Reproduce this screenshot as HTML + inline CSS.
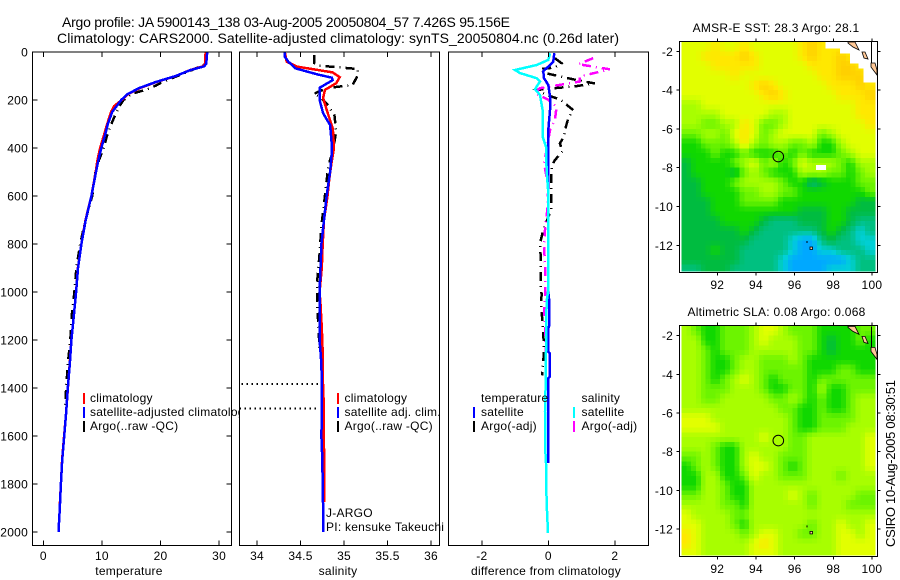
<!DOCTYPE html>
<html lang="en">
<head>
<meta charset="utf-8">
<title>Argo profile 5900143_138</title>
<style>
html,body{margin:0;padding:0;background:#fff;}
svg{display:block;font-family:"Liberation Sans",sans-serif;font-size:12px;fill:#000;letter-spacing:0.25px;}
.line{fill:none;stroke-linejoin:miter;shape-rendering:crispEdges;}
.frame{fill:none;stroke:#000;stroke-width:1;shape-rendering:crispEdges;}
.tick{stroke:#000;stroke-width:1;shape-rendering:crispEdges;}
</style>
</head>
<body>
<svg id="chart" xmlns="http://www.w3.org/2000/svg" width="900" height="580" viewBox="0 0 900 580">
<rect x="0" y="0" width="900" height="580" fill="#fff"/>
<text x="62" y="27" font-size="14" style="letter-spacing:0" textLength="448" lengthAdjust="spacing">Argo profile: JA 5900143_138 03-Aug-2005 20050804_57 7.426S 95.156E</text>
<text x="57" y="43" font-size="14" style="letter-spacing:0" textLength="562" lengthAdjust="spacing">Climatology: CARS2000. Satellite-adjusted climatology: synTS_20050804.nc (0.26d later)</text>
<g id="root"></g>
<text transform="translate(895,547) rotate(-90)" font-size="13" style="letter-spacing:0" textLength="167" lengthAdjust="spacing">CSIRO 10-Aug-2005 08:30:51</text>
</svg>
<script>
const depthTicks = [0,200,400,600,800,1000,1200,1400,1600,1800,2000];
const tempTicks = [0,10,20,30];
const salTicks = [34,34.5,35,35.5,36];
const salTickLabels = ['34','34.5','35','35.5','36'];
const diffTicks = [-2,0,2];
const lonTicks = [92,94,96,98,100];
const latTicks = [-2,-4,-6,-8,-10,-12];

const tempClimDepth = [0,50,60,75,100,125,150,175,200,225,250,300,350,400,450,500,600,700,800,900,1000,1100,1200,1300,1400,1500,1600,1700,1800,1900];
const tempClimValue = [27.7,27.6,27.2,25.1,22.6,19.3,16.5,14.5,13.4,12.1,11.55,10.9,10.3,9.7,9.25,8.95,8.2,7.2,6.5,5.9,5.6,5.2,4.8,4.5,4.2,3.9,3.55,3.2,3.0,2.8];
const tempSatDepth = [0,50,60,75,100,125,150,175,200,250,300,350,400,450,500,600,700,800,900,1000,1100,1200,1300,1400,1500,1600,1700,1800,1900,2000];
const tempSatValue = [27.97,27.8,27.4,25.14,22.6,19.2,16.4,14.4,13.3,11.75,11.0,10.5,9.9,9.4,9.0,8.2,7.23,6.5,5.93,5.6,5.2,4.8,4.52,4.18,3.9,3.56,3.22,3.0,2.82,2.6];
const tempArgoDepth = [0,50,75,100,125,140,155,175,200,225,250,300,350,400,450,500,600,700,800,900,1000,1100,1200,1300,1400,1490];
const tempArgoValue = [27.7,27.7,25.4,22.9,20.3,19.2,17.8,15,13.7,13,12.5,11.6,10.85,10.3,9.5,8.9,8.35,7.2,6.3,5.65,5.3,4.85,4.6,4.18,3.9,3.67];

const salClimDepth = [0,40,61,85,105,130,158,192,262,317,337,400,476,532,600,700,800,900,1000,1050,1150,1250,1350,1450,1550,1650,1750,1875];
const salClimValue = [34.32,34.34,34.46,34.87,34.95,34.91,34.78,34.76,34.82,34.87,34.875,34.885,34.85,34.83,34.81,34.77,34.755,34.745,34.72,34.73,34.745,34.755,34.755,34.765,34.765,34.77,34.775,34.775];
const salSatDepth = [0,20,40,68,93,107,117,149,200,255,304,387,421,500,600,700,800,900,1000,1100,1200,1300,1400,1500,1600,1700,1800,1900,2000];
const salSatValue = [34.32,34.32,34.36,34.44,34.69,34.86,34.87,34.72,34.72,34.76,34.84,34.86,34.86,34.84,34.80,34.77,34.74,34.73,34.72,34.72,34.72,34.74,34.745,34.745,34.74,34.75,34.755,34.76,34.76];
const salArgoDepth = [12,46,57,71,96,137,151,175,186,214,262,332,415,475,600,725,840,965,1075,1170,1253];
const salArgoValue = [34.66,34.66,34.72,35.16,35.16,35.10,34.80,34.65,34.72,34.80,34.89,34.91,34.87,34.82,34.78,34.74,34.72,34.69,34.695,34.71,34.72];
const salGapDepth = [1384,1486];
const salGapStart = [33.82,33.80];
const salGapEnd = [34.71,34.68];

const diffTempSatDepth = [5,40,81,109,137,186,242,325,463,575,1000,1040,1140,1150,1250,1255,1354,1360,1712];
const diffTempSatValue = [0.18,0.15,-0.15,-0.13,0,0.05,0.05,0,0,0,0,0.03,0.03,0,0,0.04,0.04,0,0];
const diffSalSatDepth = [5,33,54,75,88,109,123,155,179,242,353,394,491,588,990,1040,1394,1499,1638,1712,1874,2004];
const diffSalSatValue = [0.05,0,-0.35,-1.0,-0.85,-0.35,-0.25,-0.4,-0.25,-0.17,-0.17,-0.07,-0.05,0,0,-0.05,-0.08,-0.1,-0.1,-0.07,-0.05,-0.01];
const diffTempArgoDepth = [26,47,64,72,89,117,131,142,158,179,197,242,276,311,353,381,415,450,478,561,658,742,797,881,964,1010,1060,1115,1175,1240,1290,1347];
const diffTempArgoValue = [0.2,0.4,0.2,-0.25,-0.05,0.85,1.4,0.85,-0.35,-0.05,0.35,0.75,0.6,0.53,0.47,0.35,0.43,0.2,0.1,0.08,0.08,-0.15,-0.25,-0.22,-0.23,-0.2,-0.22,-0.18,-0.15,-0.13,-0.15,-0.19];
const diffSalArgoDepth = [26,51,72,102,123,151,172,199,228,283,325,394,463,561,658,742,811,881,978,1020,1085,1140,1195,1250];
const diffSalArgoValue = [1.35,0.9,1.85,0.95,0.95,-0.25,-0.4,0,0.25,0.2,0.05,-0.03,-0.13,0,-0.03,-0.1,-0.13,-0.1,-0.1,-0.1,-0.13,-0.1,-0.1,-0.07];

const mapColors = [[0,80,224],[0,168,255],[0,208,216],[0,192,128],[0,188,64],[16,216,0],[108,244,0],[168,254,0],[226,255,0],[255,232,0],[255,208,0]];
const sstRows = [
[8,8,8,9,8,8,9,8,8,8,8,8,9,10,9,9,9,9,9,9],
[8,8,9,9,9,9,10,9,8,8,8,8,9,10,9,9,10,9,9,9],
[8,8,8,9,9,9,9,9,8,8,8,8,8,9,9,9,10,10,9,9],
[8,8,8,8,8,9,8,8,8,8,8,8,8,8,9,9,10,10,10,9],
[8,8,8,8,8,8,8,9,10,9,8,8,8,8,8,9,9,9,10,9],
[8,8,8,8,8,8,8,8,9,10,9,8,8,8,8,8,9,9,9,10],
[7,7,8,8,8,8,8,8,8,8,8,8,8,8,8,8,8,8,9,9],
[7,7,7,7,8,8,8,8,8,7,7,8,8,8,8,8,8,8,9,9],
[7,7,6,6,7,7,9,8,6,6,7,8,8,8,8,8,8,8,8,9],
[6,6,7,7,6,8,9,8,6,7,8,8,8,8,6,7,8,8,8,8],
[5,5,6,6,6,7,9,7,6,7,7,6,6,7,5,5,7,8,8,8],
[5,5,5,6,5,5,6,5,5,5,6,5,6,5,5,5,6,7,8,8],
[4,5,5,5,5,6,7,8,6,7,5,6,8,7,7,7,6,5,7,7],
[4,5,5,5,5,4,6,7,6,5,5,5,7,7,7,6,6,5,6,7],
[4,4,5,5,5,6,7,7,7,7,6,5,5,3,4,5,5,5,6,6],
[4,4,5,5,5,5,6,6,7,7,6,6,5,5,5,5,5,5,5,6],
[4,4,4,5,5,5,6,6,6,6,5,5,5,5,5,5,5,5,4,4],
[4,4,4,5,5,5,5,5,5,5,5,5,4,4,4,5,5,4,4,4],
[4,4,4,4,5,5,5,5,4,3,3,3,4,4,4,5,5,4,3,3],
[4,4,4,4,4,4,5,4,3,3,3,3,3,3,4,5,4,3,2,3],
[4,4,4,4,4,4,4,3,3,3,3,2,1,1,3,4,3,3,2,2],
[4,4,4,5,4,4,3,3,3,3,3,2,1,1,2,2,3,3,3,2],
[4,4,4,4,4,4,3,3,3,3,2,1,1,1,1,1,1,2,3,3],
[3,3,4,4,4,3,3,3,3,3,2,1,1,1,1,2,2,2,3,3]
];
const slaRows = [
[7,6,5,5,6,6,6,7,8,8,7,6,6,6,5,5,5,5,6,6],
[7,7,5,5,6,6,6,7,8,7,7,7,6,6,5,4,5,5,6,5],
[7,7,6,5,6,6,6,7,7,7,7,7,6,6,5,4,5,5,5,5],
[7,7,6,5,5,6,7,7,6,6,6,7,6,5,5,5,5,5,5,5],
[7,7,6,5,5,6,7,7,6,6,6,6,6,5,5,5,6,6,5,5],
[7,7,6,5,6,7,8,7,6,5,6,6,6,5,6,6,6,6,6,6],
[7,7,6,6,6,7,7,7,6,5,5,6,6,5,7,5,5,6,6,6],
[7,7,6,6,7,7,7,7,7,6,6,7,6,5,6,5,5,6,7,7],
[7,7,7,7,7,7,7,7,7,7,6,6,5,5,6,5,5,6,7,7],
[8,8,8,7,7,7,7,7,7,7,7,6,5,5,6,6,6,6,7,7],
[8,8,8,8,7,7,7,7,7,7,7,6,5,5,6,6,6,7,7,7],
[7,7,7,7,7,7,7,7,8,7,7,6,6,7,7,7,7,7,7,8],
[7,7,7,6,5,5,7,7,7,7,7,6,6,7,7,7,7,7,7,8],
[6,6,7,6,5,5,7,8,7,7,6,6,6,7,7,7,7,7,7,8],
[5,6,7,6,5,5,7,8,8,7,6,5,6,7,7,7,7,7,7,8],
[5,5,7,7,5,5,6,8,7,7,6,6,6,7,7,7,6,7,7,7],
[5,5,7,7,6,5,5,7,7,7,7,7,7,7,7,7,7,7,7,7],
[6,6,7,7,6,5,5,7,7,7,7,8,7,6,7,7,7,7,6,6],
[7,7,7,7,6,6,5,7,7,7,7,7,7,6,7,7,7,6,6,6],
[8,7,7,7,7,6,6,7,7,7,7,7,7,7,7,7,7,7,7,7],
[8,8,7,7,7,6,5,7,7,7,7,7,7,6,7,7,8,7,7,8],
[9,8,7,7,7,7,6,7,8,8,7,7,6,6,7,7,8,8,7,8],
[9,8,7,7,7,7,7,8,9,8,7,7,7,7,7,7,8,8,8,8],
[8,8,7,7,7,7,7,8,8,8,7,7,7,7,7,7,8,8,8,8]
];
const floatLon = [95.156];
const floatLat = [-7.426];

const NS = 'http://www.w3.org/2000/svg';
const root = document.getElementById('root');
const yDepth = d => 52 + d * 0.24;
const xTemp = v => 43.3 + v * 5.86;
const xSal = v => 257 + (v - 34) * 87;
const xDiff = v => 548.3 + v * 33.25;
const xLon = v => 717.3 + (v - 92) * 19.33;
const ySst = v => 51.3 + (-2 - v) * 19.4;
const ySla = v => 335.7 + (-2 - v) * 19.33;
const MAP_LEFT = 679.5, MAP_RIGHT = 877.5;

function make(tag, attrs, parent, text) {
  const el = document.createElementNS(NS, tag);
  for (const k in attrs) el.setAttribute(k, attrs[k]);
  if (text !== undefined) el.textContent = text;
  (parent || root).appendChild(el);
  return el;
}

function tick(x1, y1, x2, y2, name) {
  const el = make('line', {x1: x1, y1: y1, x2: x2, y2: y2, class: 'tick'});
  
  
}

function label(x, y, str, anchor, name) {
  const el = make('text', {x: x, y: y, 'text-anchor': anchor}, root, str);
  
  
}

function panel(L, R, T, B, name) {
  const bg = make('rect', {x: L, y: T, width: R - L, height: B - T, fill: '#fff'});
  
  
}

function frame(L, R, T, B, name) {
  const el = make('rect', {x: L, y: T, width: R - L, height: B - T, class: 'frame'});
  
  
}

function series(depths, values, xFn, color, width, dash, name) {
  const pts = depths.map((d, i) => xFn(values[i]).toFixed(1) + ',' + yDepth(d).toFixed(1)).join(' ');
  const el = make('polyline', {points: pts, class: 'line', stroke: color, 'stroke-width': width});
  if (dash) el.setAttribute('stroke-dasharray', dash);
  
  
}

function legendEntry(xMark, xText, y, color, str, name) {
  if (color) {
    const m = make('rect', {x: xMark, y: y - 5, width: 2, height: 11, fill: color});
    
    
  }
  label(xText, y + 4, str, 'start', name);
}

const DASH = '9 5 1 5';
const LINE = 2.5;
const ARGO_LINE = 2.5;
const TOP = 52, BOT = 545.5;

/* temperature panel */
panel(32.5, 231.5, TOP, BOT, 'temperature-panel');
series(tempArgoDepth, tempArgoValue, xTemp, '#000', ARGO_LINE, DASH, 'temperature-argo-line');
series(tempClimDepth, tempClimValue, xTemp, '#f00', LINE, null, 'temperature-climatology-line');
series(tempSatDepth, tempSatValue, xTemp, '#00f', LINE, null, 'temperature-satellite-line');
legendEntry(83, 90, 398, '#f00', 'climatology', 'temperature-legend-climatology');
legendEntry(83, 90, 412, '#00f', 'satellite-adjusted climatology', 'temperature-legend-satellite');
legendEntry(83, 90, 426, '#000', 'Argo(..raw -QC)', 'temperature-legend-argo');
frame(32.5, 231.5, TOP, BOT, 'temperature-panel');
depthTicks.forEach(d => {
  tick(32.5, yDepth(d), 37.5, yDepth(d), 'depth-tick-left');
  tick(226.5, yDepth(d), 231.5, yDepth(d), 'depth-tick-right');
  label(28, yDepth(d) + 4.5, String(d), 'end', 'depth-tick-label');
});
tempTicks.forEach(v => {
  tick(xTemp(v), TOP, xTemp(v), TOP + 5, 'temperature-tick-top');
  tick(xTemp(v), BOT, xTemp(v), BOT - 5, 'temperature-tick-bottom');
  label(xTemp(v), 560, String(v), 'middle', 'temperature-tick-label');
});
label(129, 575, 'temperature', 'middle', 'temperature-axis-title');

/* salinity panel */
panel(239.5, 439.5, TOP, BOT, 'salinity-panel');
series(salArgoDepth, salArgoValue, xSal, '#000', ARGO_LINE, DASH, 'salinity-argo-line');
salGapDepth.forEach((d, i) => {
  const el = make('line', {x1: xSal(salGapStart[i]), y1: yDepth(d), x2: xSal(salGapEnd[i]), y2: yDepth(d), stroke: '#000', 'stroke-width': 2, 'stroke-dasharray': '1.5 3.5', class: 'line'});
  
  
});
series(salClimDepth, salClimValue, xSal, '#f00', LINE, null, 'salinity-climatology-line');
series(salSatDepth, salSatValue, xSal, '#00f', LINE, null, 'salinity-satellite-line');
legendEntry(337, 344.5, 398, '#f00', 'climatology', 'salinity-legend-climatology');
legendEntry(337, 344.5, 412, '#00f', 'satellite adj. clim.', 'salinity-legend-satellite');
legendEntry(337, 344.5, 426, '#000', 'Argo(..raw -QC)', 'salinity-legend-argo');
frame(239.5, 439.5, TOP, BOT, 'salinity-panel');
salTicks.forEach((v, i) => {
  tick(xSal(v), TOP, xSal(v), TOP + 5, 'salinity-tick-top');
  tick(xSal(v), BOT, xSal(v), BOT - 5, 'salinity-tick-bottom');
  label(xSal(v), 560, salTickLabels[i], 'middle', 'salinity-tick-label');
});
label(338, 575, 'salinity', 'middle', 'salinity-axis-title');
label(326, 517, 'J-ARGO', 'start', 'float-program-label');
label(326, 531, 'PI: kensuke Takeuchi', 'start', 'float-pi-label');

/* difference panel */
panel(448.5, 648.5, TOP, BOT, 'difference-panel');
series(diffTempArgoDepth, diffTempArgoValue, xDiff, '#000', ARGO_LINE, DASH, 'difference-temperature-argo-line');
series(diffSalArgoDepth, diffSalArgoValue, xDiff, '#f0f', ARGO_LINE, DASH, 'difference-salinity-argo-line');
series(diffTempSatDepth, diffTempSatValue, xDiff, '#00f', LINE, null, 'difference-temperature-satellite-line');
series(diffSalSatDepth, diffSalSatValue, xDiff, '#0ff', LINE, null, 'difference-salinity-satellite-line');
legendEntry(0, 481, 398, null, 'temperature', 'difference-legend-temperature-heading');
legendEntry(473, 481, 412, '#00f', 'satellite', 'difference-legend-temperature-satellite');
legendEntry(473, 481, 426, '#000', 'Argo(-adj)', 'difference-legend-temperature-argo');
legendEntry(0, 581.5, 398, null, 'salinity', 'difference-legend-salinity-heading');
legendEntry(573, 581.5, 412, '#0ff', 'satellite', 'difference-legend-salinity-satellite');
legendEntry(573, 581.5, 426, '#f0f', 'Argo(-adj)', 'difference-legend-salinity-argo');
frame(448.5, 648.5, TOP, BOT, 'difference-panel');
diffTicks.forEach(v => {
  tick(xDiff(v), TOP, xDiff(v), TOP + 5, 'difference-tick-top');
  tick(xDiff(v), BOT, xDiff(v), BOT - 5, 'difference-tick-bottom');
  label(xDiff(v), 560, String(v), 'middle', 'difference-tick-label');
});
label(546, 575, 'difference from climatology', 'middle', 'difference-axis-title');

/* maps: each half-degree value is shaded through a smooth colour scale on a quarter-degree raster */
function levelColor(level) {
  const a = Math.max(0, Math.min(mapColors.length - 1, level));
  const lo = Math.floor(a), hi = Math.min(mapColors.length - 1, lo + 1), t = a - lo;
  const c = mapColors[lo].map((v, k) => Math.round(v + (mapColors[hi][k] - v) * t));
  return 'rgb(' + c.join(',') + ')';
}

function sampleLevel(rows, u, v) {
  const nr = rows.length, nc = rows[0].length;
  const cu = Math.max(0, Math.min(nc - 1, u)), cv = Math.max(0, Math.min(nr - 1, v));
  const i0 = Math.floor(cu), j0 = Math.floor(cv);
  const i1 = Math.min(nc - 1, i0 + 1), j1 = Math.min(nr - 1, j0 + 1);
  const fu = cu - i0, fv = cv - j0;
  return (rows[j0][i0] * (1 - fu) + rows[j0][i1] * fu) * (1 - fv) + (rows[j1][i0] * (1 - fu) + rows[j1][i1] * fu) * fv;
}

function drawMap(rows, yFn, T, B, name, labelY) {
  const clipId = name + '-clip';
  const defs = make('defs', {});
  const cp = make('clipPath', {id: clipId}, defs);
  make('rect', {x: MAP_LEFT + 2, y: T, width: MAP_RIGHT - MAP_LEFT - 2, height: B - T - 1}, cp);
  const g = make('g', {'clip-path': 'url(#' + clipId + ')', 'shape-rendering': 'crispEdges'});
  
  
  for (let j = 0; j < rows.length * 2; j++) {
    for (let i = 0; i < rows[0].length * 2; i++) {
      const lon = 90.15 + i * 0.25;
      const lat = -1.5 - j * 0.25;
      const x = xLon(lon), y = yFn(lat);
      const level = sampleLevel(rows, (i + 0.5) / 2 - 0.5, (j + 0.5) / 2 - 0.5);
      const c = make('rect', {x: x.toFixed(1), y: y.toFixed(1), width: (xLon(lon + 0.25) - x + 0.6).toFixed(1), height: (yFn(lat - 0.25) - y + 0.6).toFixed(1), fill: levelColor(level)}, g);
      
      
    }
  }
  frame(MAP_LEFT, MAP_RIGHT, T, B, name);
  lonTicks.forEach(v => {
    tick(xLon(v), T, xLon(v), T - 3, name + '-lon-tick-top');
    tick(xLon(v), B, xLon(v), B + 3, name + '-lon-tick-bottom');
    label(xLon(v), labelY, String(v), 'middle', name + '-lon-label');
  });
  latTicks.forEach(v => {
    tick(MAP_LEFT, yFn(v), MAP_LEFT - 3, yFn(v), name + '-lat-tick-left');
    tick(MAP_RIGHT, yFn(v), MAP_RIGHT + 3, yFn(v), name + '-lat-tick-right');
    label(673, yFn(v) + 4.5, String(v), 'end', name + '-lat-label');
  });
  const c = make('circle', {cx: xLon(floatLon[0]), cy: yFn(floatLat[0]), r: 5.3, fill: 'none', stroke: '#000', 'stroke-width': 1});
  
  
}

function drawLand(dy, name) {
  const g = make('g', {transform: 'translate(0,' + dy + ')'});
  
  
  const shapes = ['848,42 855,42 859,50 853,47 848,43', '862,52 865,52 868,59 864,58', '871,63 875,63 877,70 877,75 874,71 871,67'];
  shapes.forEach(p => {
    const s = make('polygon', {points: p, fill: '#ffc896', stroke: '#000', 'stroke-width': 0.8}, g);
    
    
  });
  const v = make('line', {x1: 871.7, y1: 42, x2: 871.7, y2: 63, stroke: '#000', class: 'tick'}, g);
  
  
  const a = make('rect', {x: 806.5, y: 241, width: 1, height: 2, fill: '#000'}, g);
  
  
  const b = make('rect', {x: 810, y: 247, width: 2.5, height: 2.5, fill: '#ffc896', stroke: '#000', 'stroke-width': 0.8}, g);
  
  
}

drawMap(sstRows, ySst, 41.5, 272.5, 'sst-map', 289);
const nd = make('polygon', {points: '825.7,42 825.7,48.3 840,48.3 840,53.3 850,53.3 850,63.3 858.3,63.3 858.3,68.3 863.3,68.3 863.3,82.7 877,82.7 877,42', fill: '#fff', 'shape-rendering': 'crispEdges'});


const nd2 = make('rect', {x: 816, y: 165, width: 10, height: 5, fill: '#fff'});


drawLand(0, 'sst-map');
label(776, 32, 'AMSR-E SST: 28.3 Argo: 28.1', 'middle', 'sst-map-title');

drawMap(slaRows, ySla, 325.5, 556.5, 'sla-map', 573);
drawLand(284.4, 'sla-map');
label(776.5, 316, 'Altimetric SLA: 0.08 Argo: 0.068', 'middle', 'sla-map-title');
</script>
</body>
</html>
